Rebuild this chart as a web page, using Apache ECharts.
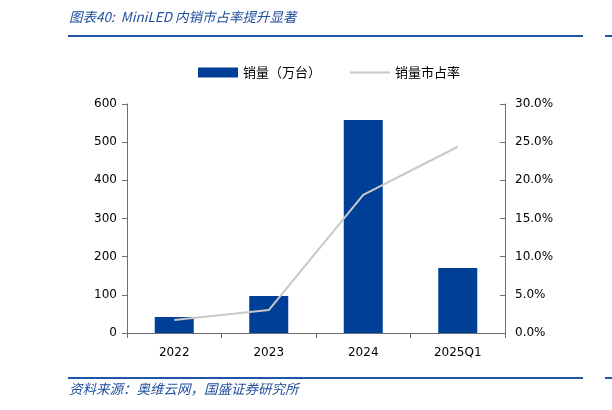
<!DOCTYPE html>
<html><head><meta charset="utf-8">
<script src="https://cdn.jsdelivr.net/npm/echarts@6/dist/echarts.min.js"></script>
<style>html,body{margin:0;padding:0;background:#fff}#c{width:612px;height:410px}</style>
</head><body><div id="c"></div>
<script>
const categories = ['2022', '2023', '2024', '2025Q1'];
const salesValues = [42, 97, 558, 170];
const shareValues = [1.7, 3.0, 18.1, 24.4];
const leftTicks = [0, 600, 100];
const rightTicks = [0, 30, 5];
const titleText = '图表40:  MiniLED 内销市占率提升显著';
const sourceText = '资料来源：奥维云网，国盛证券研究所';

const chart = echarts.init(document.getElementById('c'));
const cjk = '"Noto Sans CJK SC", sans-serif';
const lat = '"DejaVu Sans", Verdana, sans-serif';
chart.setOption({
  animation: false,
  graphic: [
    {type:'text', left:69, top:10, style:{text:titleText, font:'italic 13.5px ' + cjk, fill:'#1f4e9c'}},
    {type:'rect', shape:{x:68, y:35, width:515, height:2}, style:{fill:'#1f56a8'}},
    {type:'rect', shape:{x:605, y:35, width:7, height:2}, style:{fill:'#1f56a8'}},
    {type:'rect', shape:{x:68, y:377, width:515, height:2}, style:{fill:'#1f56a8'}},
    {type:'rect', shape:{x:605, y:377, width:7, height:2}, style:{fill:'#1f56a8'}},
    {type:'text', left:69, top:382, style:{text:sourceText, font:'italic 13.5px ' + cjk, fill:'#1f4e9c'}}
  ],
  legend: {
    top: 61, left: 193, itemGap: 28, itemWidth: 40, itemHeight: 10,
    textStyle: {fontFamily: cjk, fontSize: 13, color: '#000'},
    data: [
      {name: '销量（万台）', icon: 'rect'},
      {name: '销量市占率', itemStyle:{opacity:0}}
    ]
  },
  grid: {left: 127, right: 107, top: 104, bottom: 77},
  xAxis: {
    type: 'category', data: categories,
    axisLine: {lineStyle: {color: '#6e6e6e'}},
    axisTick: {show: true, alignWithLabel: false, length: 5, lineStyle: {color: '#6e6e6e'}},
    axisLabel: {fontFamily: lat, fontSize: 12, color: '#000', margin: 14}
  },
  yAxis: [
    {type:'value', min:leftTicks[0], max:leftTicks[1], interval:leftTicks[2],
     axisLine:{show:true, lineStyle:{color:'#6e6e6e'}},
     axisTick:{show:true, length:5, lineStyle:{color:'#6e6e6e'}},
     splitLine:{show:false},
     axisLabel:{fontFamily:lat, fontSize:12, color:'#000', margin:10}},
    {type:'value', min:rightTicks[0], max:rightTicks[1], interval:rightTicks[2], position:'right',
     axisLine:{show:true, lineStyle:{color:'#6e6e6e'}},
     axisTick:{show:true, inside:true, length:5, lineStyle:{color:'#6e6e6e'}},
     splitLine:{show:false},
     axisLabel:{fontFamily:lat, fontSize:12, color:'#000', margin:10, formatter: v => v.toFixed(1) + '%'}}
  ],
  series: [
    {name:'销量（万台）', type:'bar', data: salesValues, barWidth: 39,
     itemStyle:{color:'#003f98'}},
    {name:'销量市占率', type:'line', yAxisIndex:1, data: shareValues, symbol:'none',
     lineStyle:{color:'#c8c8c8', width:2}, itemStyle:{color:'#c8c8c8'}}
  ]
});
</script></body></html>
